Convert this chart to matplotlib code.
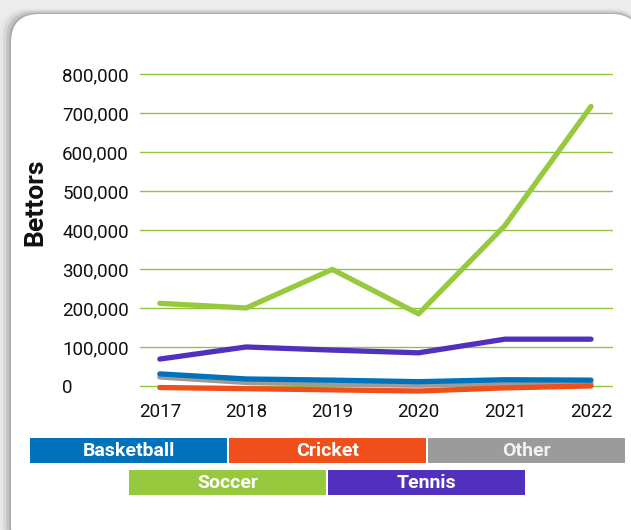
import matplotlib
matplotlib.use("Agg")
import matplotlib.pyplot as plt
from matplotlib.patches import FancyBboxPatch, Rectangle
from matplotlib.ticker import FuncFormatter

plt.rcParams['font.family'] = ['Roboto', 'DejaVu Sans']

years = [2017, 2018, 2019, 2020, 2021, 2022]
sports = ["Basketball", "Cricket", "Other", "Soccer", "Tennis"]
basketball = [31000, 18000, 15000, 11000, 16000, 15000]
cricket = [-4000, -7000, -10000, -13000, -5000, 0]
other = [23000, 9000, 5000, 2000, 7000, 6000]
soccer = [212000, 200000, 299000, 185000, 411000, 717000]
tennis = [69000, 100000, 92000, 85000, 120000, 120000]
colors = ["#0072bc", "#f04e1b", "#9b9b9b", "#96c93d", "#5230be"]
y_ticks = [0, 100000, 200000, 300000, 400000, 500000, 600000, 700000, 800000]

W, H = 631, 530
fig = plt.figure(figsize=(W / 100, H / 100), dpi=100)
fig.patch.set_facecolor("#ececec")

def px(x, y, w, h):
    # pixel box (top-left origin) -> figure fraction
    return x / W, 1 - (y + h) / H, w / W, h / H

# card shadow, then card
for off, col in [(11, "#e6e6e6"), (8, "#d8d8d8"), (5, "#c4c4c4"), (2, "#acacac")]:
    x0, y0, w0, h0 = px(11 - off, 14 - off * 0.5, 629 + off, 540)
    fig.patches.append(FancyBboxPatch((x0, y0), w0, h0,
                                      boxstyle="round,pad=0,rounding_size=0.045",
                                      transform=fig.transFigure, facecolor=col,
                                      edgecolor="none", zorder=0, mutation_aspect=W / H))
x0, y0, w0, h0 = px(11, 14, 629, 540)
fig.patches.append(FancyBboxPatch((x0, y0), w0, h0,
                                  boxstyle="round,pad=0,rounding_size=0.045",
                                  transform=fig.transFigure, facecolor="white",
                                  edgecolor="none", zorder=1, mutation_aspect=W / H))

ax = fig.add_axes(px(140, 62, 473, 338))
ax.set_zorder(5)
ax.set_facecolor("none")
series = [basketball, cricket, other, soccer, tennis]
# draw order so purple/green sit on top like the reference
for idx in [2, 1, 0, 4, 3]:
    ax.plot(years, series[idx], color=colors[idx], linewidth=3.8,
            solid_capstyle="round", solid_joinstyle="round", zorder=3)

ax.set_xlim(2016.77, 2022.255)
ax.set_ylim(-36000, 831000)
ax.set_yticks(y_ticks)
ax.set_xticks(years)
ax.yaxis.set_major_formatter(FuncFormatter(lambda v, p: f"{int(v):,}"))
ax.grid(axis="y", color="#8dc63f", linewidth=1.0)
ax.grid(axis="x", visible=False)
for s in ax.spines.values():
    s.set_visible(False)
ax.tick_params(axis="both", length=0, labelsize=13.5, colors="#111111")
ax.tick_params(axis="y", pad=56)
ax.tick_params(axis="x", pad=2)
for lab in ax.get_yticklabels():
    lab.set_horizontalalignment("left")

fig.text(35 / W, 1 - 202 / H, "Bettors", rotation=90, ha="center", va="center",
         fontsize=19, fontweight="bold", color="#111111", zorder=6)

# legend boxes
boxes = [(30, 438), (229, 438), (428, 438), (129, 470), (328, 470)]
for name, col, (bx, by) in zip(sports, colors, boxes):
    r = px(bx, by, 197, 25)
    fig.patches.append(Rectangle((r[0], r[1]), r[2], r[3], transform=fig.transFigure,
                                 facecolor=col, edgecolor="none", zorder=2))
    fig.text(r[0] + r[2] / 2, r[1] + r[3] / 2, name, ha="center", va="center",
             color="#f2f2f2" if name == "Other" else "white",
             fontsize=14, fontweight="bold", zorder=3)

fig.savefig("out.png", dpi=100)
